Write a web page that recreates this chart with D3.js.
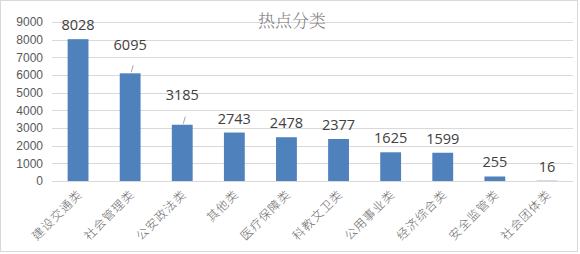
<!DOCTYPE html>
<html>
<head>
<meta charset="utf-8">
<script src="https://cdn.jsdelivr.net/npm/d3@7"></script>
<style>
  body { margin: 0; background: #fff; }
  svg { display: block; }
</style>
</head>
<body>
<div id="chart"></div>
<script>
// chart data
const categories = ["建设交通类", "社会管理类", "公安政法类", "其他类", "医疗保障类",
                    "科教文卫类", "公用事业类", "经济综合类", "安全监管类", "社会团体类"];
const values = [8028, 6095, 3185, 2743, 2478, 2377, 1625, 1599, 255, 16];
const yTicks = [0, 1000, 2000, 3000, 4000, 5000, 6000, 7000, 8000, 9000];
// labels lifted above the bar with a leader line
const raisedLabels = {"社会管理类": 14, "公安政法类": 16};

const width = 580, height = 254;
const margin = {top: 22, right: 7, bottom: 73, left: 52};

let svg = d3.select("#chart").append("svg")
    .attr("width", width)
    .attr("height", height);

// outer border
svg.append("rect")
    .attr("x", 0.5).attr("y", 0.5)
    .attr("width", width - 3).attr("height", height - 3)
    .attr("fill", "#fff")
    .attr("stroke", "#d9d9d9");

let x = d3.scaleBand()
    .domain(categories)
    .range([margin.left, width - margin.right])
    .paddingInner(0.6)
    .paddingOuter(0.3);

let y = d3.scaleLinear()
    .domain([0, 9000])
    .range([height - margin.bottom, margin.top]);

// gridlines
svg.append("g")
    .selectAll("line")
    .data(yTicks)
    .enter().append("line")
    .attr("x1", margin.left)
    .attr("x2", width - margin.right)
    .attr("y1", d => Math.round(y(d)) + 0.5)
    .attr("y2", d => Math.round(y(d)) + 0.5)
    .attr("stroke", "#d9d9d9")
    .attr("stroke-width", 1);

// y axis labels
let yAxis = d3.axisLeft(y).tickValues(yTicks).tickFormat(d3.format("d")).tickSize(0).tickPadding(9);
svg.append("g")
    .attr("transform", `translate(${margin.left},0)`)
    .call(yAxis)
    .call(g => g.select(".domain").remove())
    .selectAll("text")
    .attr("font-family", "'Liberation Sans', Arial, sans-serif")
    .attr("font-size", 12)
    .attr("fill", "#595959");

// title
svg.append("text")
    .attr("x", 292)
    .attr("y", 27)
    .attr("text-anchor", "middle")
    .attr("font-family", "'Noto Serif CJK SC', 'Noto Sans CJK SC', serif")
    .attr("font-size", 17)
    .attr("font-weight", 300)
    .attr("fill", "#808080")
    .text("热点分类");

// bars
svg.append("g")
    .selectAll("rect")
    .data(categories)
    .enter().append("rect")
    .attr("x", d => x(d))
    .attr("y", (d, i) => y(values[i]))
    .attr("width", x.bandwidth())
    .attr("height", (d, i) => y(0) - y(values[i]))
    .attr("fill", "#4f81bd");

// value labels
let labels = svg.append("g");
categories.forEach((c, i) => {
    let cx = x(c) + x.bandwidth() / 2;
    let top = y(values[i]);
    let lift = raisedLabels[c] || 0;
    if (lift) {
        labels.append("line")
            .attr("x1", cx + 1).attr("y1", top - 1)
            .attr("x2", cx + 3).attr("y2", top - 8)
            .attr("stroke", "#a6a6a6");
    }
    labels.append("text")
        .attr("x", cx)
        .attr("y", top - 9 - lift)
        .attr("text-anchor", "middle")
        .attr("font-family", "'Open Sans', 'Noto Sans', sans-serif")
        .attr("font-size", 14.5)
        .attr("fill", "#404040")
        .text(values[i]);
});

// category labels, rotated
svg.append("g")
    .selectAll("text")
    .data(categories)
    .enter().append("text")
    .attr("transform", d => `translate(${x(d) + x.bandwidth() / 2 + 5},${y(0) + 14}) rotate(-45)`)
    .attr("text-anchor", "end")
    .attr("font-family", "'Noto Sans CJK SC', sans-serif")
    .attr("font-size", 12)
    .attr("font-weight", 300)
    .attr("letter-spacing", 1)
    .attr("fill", "#6a6a6a")
    .text(d => d);
</script>
</body>
</html>
